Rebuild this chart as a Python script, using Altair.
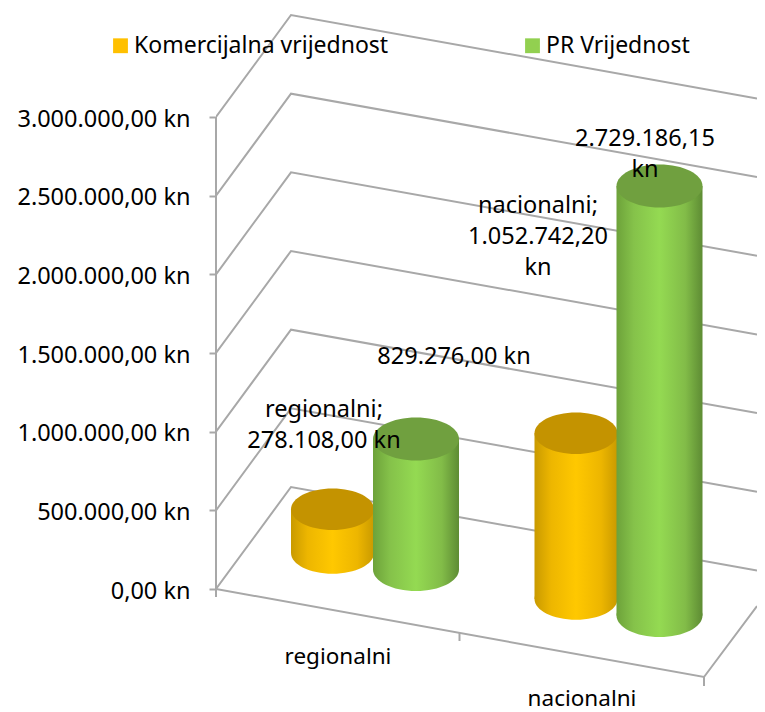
import altair as alt
import pandas as pd

categories = ["regionalni", "nacionalni"]
series_names = ["Komercijalna vrijednost", "PR Vrijednost"]
komercijalna = [278108.00, 1052742.20]
pr_vrijednost = [829276.00, 2729186.15]
y_ticks = [0, 500000, 1000000, 1500000, 2000000, 2500000, 3000000]

FONT = "Noto Sans"
FS_NUM = 23.5
FS_CAT = 22.5
FS_LEG = 23
GRID = "#A8A8A8"

# projection of the 3D box onto the screen (picture pixels)
X0, X1 = 216, 757
Y_ZERO, Y_TOP = 589, 117
PX = (Y_ZERO - Y_TOP) / 3000000
TOP_OF_PLOT, BOTTOM_OF_PLOT = 8, 712


def v(img_y):
    return (Y_ZERO - img_y) / PX


BACK_DX, BACK_DY = 75, 102
WALL_SLOPE = 0.179
FLOOR_RIGHT = (704, 677)
floor_right_end_y = 606

# grid on the two walls
grid_rows = []
for t in y_ticks:
    y0 = Y_ZERO - t * PX
    back_y = y0 - BACK_DY
    for order, (x, y) in enumerate(
        [(X0, y0), (X0 + BACK_DX, back_y), (X1, back_y + (X1 - X0 - BACK_DX) * WALL_SLOPE)]
    ):
        grid_rows.append({"g": str(t), "o": order, "x": x, "y": v(y)})
floor_pts = [(X0, Y_ZERO), FLOOR_RIGHT, (X1, floor_right_end_y)]
for order, (x, y) in enumerate(floor_pts):
    grid_rows.append({"g": "floor", "o": order, "x": x, "y": v(y)})
grid_df = pd.DataFrame(grid_rows)

axis_line = pd.DataFrame({"x": [X0], "y": [0], "y2": [3000000]})
floor_ticks = pd.DataFrame(
    [
        {"x": X0, "y": v(589), "y2": v(597)},
        {"x": 459.5, "y": v(633), "y2": v(641)},
        {"x": 704, "y": v(677), "y2": v(686)},
    ]
)

# cylinders
CX0, DX_CAT, DX_SER = 332.5, 243.5, 83.5
BY0, DY_CAT, DY_SER = 553, 46, 16.5
WIDTHS = [83, 86]
rows = []
for c, cat in enumerate(categories):
    for s, vals in enumerate([komercijalna, pr_vrijednost]):
        cx = CX0 + c * DX_CAT + s * DX_SER
        base = v(BY0 + c * DY_CAT + s * DY_SER)
        rows.append(
            {
                "category": cat,
                "series": series_names[s],
                "value": vals[c],
                "cx": cx,
                "x1": cx - WIDTHS[s] / 2,
                "x2": cx + WIDTHS[s] / 2,
                "base": base,
                "top": base + vals[c],
            }
        )
bars = pd.DataFrame(rows)

ELLIPSE = (
    "M-1,0 C-1,-0.276 -0.552,-0.5 0,-0.5 C0.552,-0.5 1,-0.276 1,0 "
    "C1,0.276 0.552,0.5 0,0.5 C-0.552,0.5 -1,0.276 -1,0 Z"
)


def grad(stops):
    return alt.Gradient(
        gradient="linear",
        x1=0,
        x2=1,
        y1=0,
        y2=0,
        stops=[alt.GradientStop(offset=o, color=c) for o, c in stops],
    )


side = {
    series_names[0]: grad(
        [(0, "#C99A00"), (0.2, "#EDB600"), (0.5, "#FFC800"), (0.8, "#EDB600"), (1, "#C99A00")]
    ),
    series_names[1]: grad(
        [(0, "#6DA23A"), (0.2, "#85C24A"), (0.5, "#94DA52"), (0.8, "#82BC48"), (1, "#5E8C34")]
    ),
}
cap = {series_names[0]: "#C49300", series_names[1]: "#70A03F"}

y_axis = alt.Axis(
    values=y_ticks,
    title=None,
    domain=False,
    grid=False,
    tickColor=GRID,
    tickSize=7,
    tickWidth=2,
    labelPadding=19,
    labelOffset=2,
    labelFont=FONT,
    labelFontSize=FS_NUM,
    labelColor="#000000",
    labelExpr="replace(format(datum.value, ',.0f'), regexp(',', 'g'), '.') + ',00 kn'",
)

x_scale = alt.Scale(domain=[X0, X1], nice=False, zero=False)
y_scale = alt.Scale(domain=[v(BOTTOM_OF_PLOT), v(TOP_OF_PLOT)], nice=False, zero=False)
X = lambda f: alt.X(f, type="quantitative", scale=x_scale, axis=None)
Y = lambda f: alt.Y(f, type="quantitative", scale=y_scale, axis=y_axis)

layers = [
    alt.Chart(grid_df)
    .mark_line(color=GRID, strokeWidth=2, clip=True)
    .encode(x=X("x"), y=Y("y"), detail="g:N", order="o:Q"),
    alt.Chart(axis_line)
    .mark_rule(color=GRID, strokeWidth=2)
    .encode(x=X("x"), y=Y("y"), y2="y2:Q"),
    alt.Chart(floor_ticks)
    .mark_rule(color=GRID, strokeWidth=2)
    .encode(x=X("x"), y=Y("y"), y2="y2:Q"),
    # carries the legend
    alt.Chart(bars)
    .mark_square(size=1, opacity=1, filled=True)
    .encode(
        x=X("cx"),
        y=Y("base"),
        color=alt.Color(
            "series:N",
            sort=series_names,
            scale=alt.Scale(domain=series_names, range=["#FFC000", "#92D050"]),
            legend=alt.Legend(
                title=None,
                orient="none",
                legendX=-107,
                legendY=26,
                direction="horizontal",
                columns=2,
                symbolType="square",
                symbolSize=220,
                symbolStrokeWidth=0,
                labelFont=FONT,
                labelFontSize=FS_LEG,
                labelColor="#000000",
                labelLimit=400,
                labelOffset=2,
                columnPadding=132,
            ),
        ),
    ),
]

for s, name in enumerate(series_names):
    d = bars[bars.series == name]
    size = WIDTHS[s] ** 2
    layers += [
        alt.Chart(d)
        .mark_point(shape=ELLIPSE, size=size, filled=True, opacity=1, fill=side[name], strokeWidth=0)
        .encode(x=X("cx"), y=Y("base")),
        alt.Chart(d)
        .mark_rect(fill=side[name])
        .encode(x=X("x1"), x2="x2:Q", y=Y("base"), y2="top:Q"),
        alt.Chart(d)
        .mark_point(shape=ELLIPSE, size=size, filled=True, opacity=1, fill=cap[name], strokeWidth=0)
        .encode(x=X("cx"), y=Y("top")),
    ]


def kn(x):
    return f"{x:,.2f}".replace(",", "#").replace(".", ",").replace("#", ".")


labels = pd.DataFrame(
    [
        {"t": f"{categories[0]};\n{kn(komercijalna[0])} kn", "x": 324, "y": 410},
        {"t": f"{kn(pr_vrijednost[0])} kn", "x": 454, "y": 357},
        {"t": f"{categories[1]};\n{kn(komercijalna[1])}\nkn", "x": 538, "y": 206},
        {"t": f"{kn(pr_vrijednost[1])}\nkn", "x": 645, "y": 139},
    ]
)
labels["y"] = labels["y"].map(v)
cat_labels = pd.DataFrame(
    {"t": categories, "x": [338, 582], "y": [v(657), v(699)]}
)

layers += [
    alt.Chart(labels)
    .mark_text(font=FONT, fontSize=FS_NUM, color="#000000", lineBreak="\n", lineHeight=31, align="center", baseline="middle")
    .encode(x=X("x"), y=Y("y"), text="t:N"),
    alt.Chart(cat_labels)
    .mark_text(font=FONT, fontSize=FS_CAT, color="#000000", align="center", baseline="middle")
    .encode(x=X("x"), y=Y("y"), text="t:N"),
]

chart = (
    alt.layer(*layers)
    .properties(
        width=X1 - X0,
        height=BOTTOM_OF_PLOT - TOP_OF_PLOT,
        autosize="none",
        padding={"left": X0 - 8, "top": 0, "right": 0, "bottom": 0},
        background="#FFFFFF",
    )
    .configure_view(stroke=None)
)

chart.save("out.html", embed_options={"renderer": "svg", "actions": False})
